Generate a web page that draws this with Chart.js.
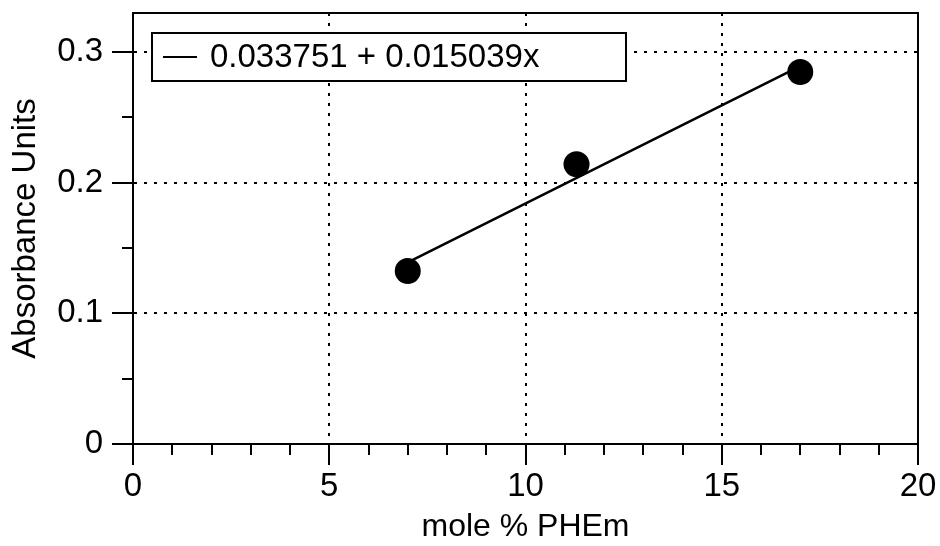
<!DOCTYPE html>
<html>
<head>
<meta charset="utf-8">
<title>Absorbance vs mole % PHEm</title>
<script src="https://cdn.jsdelivr.net/npm/chart.js@4/dist/chart.umd.min.js"></script>
<style>
  html, body { margin: 0; padding: 0; background: #fff; }
  canvas { display: block; }
</style>
</head>
<body>
<canvas id="chart" width="940" height="546"></canvas>
<script>
// Measured samples
const molePercent = [7, 11.3, 17];
const absorbance = [0.1325, 0.2142, 0.2848];

// Least-squares fit coefficients (absorbance = intercept + slope * x)
const fitIntercept = 0.033751;
const fitSlope = 0.015039;
const fitRange = [7, 17];

// Axis ticks
const xMajorTicks = [0, 5, 10, 15, 20];
const yMajorTicks = [0, 0.1, 0.2, 0.3];
const xMinorTicks = [1, 2, 3, 4, 6, 7, 8, 9, 11, 12, 13, 14, 16, 17, 18, 19];
const yMinorTicks = [0.05, 0.15, 0.25];

const FONT = "'Liberation Sans', Arial, Helvetica, sans-serif";
const INK = '#000';

const fitLabel = fitIntercept + ' + ' + fitSlope + 'x';
const fitPoints = fitRange.map(x => ({ x: x, y: fitIntercept + fitSlope * x }));
const samplePoints = molePercent.map((x, i) => ({ x: x, y: absorbance[i] }));

// Frame, minor ticks and the boxed legend
const framePlugin = {
  id: 'frame',
  afterDraw(chart) {
    const { ctx, chartArea: a, scales } = chart;
    ctx.save();
    ctx.strokeStyle = INK;
    ctx.lineWidth = 2;
    // minor ticks
    ctx.beginPath();
    xMinorTicks.forEach(v => {
      const px = Math.round(scales.x.getPixelForValue(v));
      ctx.moveTo(px, a.bottom);
      ctx.lineTo(px, a.bottom + 11);
    });
    yMinorTicks.forEach(v => {
      const py = Math.round(scales.y.getPixelForValue(v));
      ctx.moveTo(a.left - 11, py);
      ctx.lineTo(a.left, py);
    });
    ctx.stroke();
    // top and right edges of the plot frame
    ctx.beginPath();
    ctx.moveTo(a.left, a.top);
    ctx.lineTo(a.right, a.top);
    ctx.lineTo(a.right, a.bottom);
    ctx.stroke();

    // legend box
    const bx = a.left + 19, by = a.top + 20, bw = 474, bh = 48;
    ctx.fillStyle = '#fff';
    ctx.fillRect(bx, by, bw, bh);
    ctx.strokeRect(bx, by, bw, bh);
    const cy = by + bh / 2;
    ctx.beginPath();
    ctx.moveTo(bx + 11, cy);
    ctx.lineTo(bx + 45, cy);
    ctx.stroke();
    ctx.fillStyle = INK;
    ctx.font = '33px ' + FONT;
    ctx.textBaseline = 'middle';
    ctx.textAlign = 'left';
    ctx.fillText(chart.data.datasets[1].label, bx + 58, cy + 1);
    ctx.restore();
  }
};

new Chart(document.getElementById('chart'), {
  type: 'scatter',
  data: {
    datasets: [
      {
        label: 'samples',
        data: samplePoints,
        pointRadius: 13,
        pointHoverRadius: 13,
        pointBackgroundColor: INK,
        pointBorderColor: INK,
        pointBorderWidth: 0,
        showLine: false
      },
      {
        label: fitLabel,
        data: fitPoints,
        showLine: true,
        borderColor: INK,
        borderWidth: 2.5,
        pointRadius: 0,
        pointHoverRadius: 0
      }
    ]
  },
  options: {
    responsive: false,
    animation: false,
    devicePixelRatio: 1,
    layout: { padding: { top: 11, right: 22, left: 0, bottom: 0 } },
    plugins: {
      legend: { display: false },
      tooltip: { enabled: false }
    },
    scales: {
      x: {
        type: 'linear',
        bounds: 'data',
        min: 0,
        max: 20,
        afterBuildTicks: s => { s.ticks = xMajorTicks.map(v => ({ value: v })); },
        afterFit: s => { s.height = 102; s.paddingLeft = 0; s.paddingRight = 0; },
        ticks: {
          color: INK,
          font: { family: FONT, size: 33 },
          padding: 2,
          maxRotation: 0
        },
        grid: {
          color: INK,
          lineWidth: 2,
          tickLength: 21,
          tickWidth: 2,
          tickColor: INK
        },
        border: { display: true, color: INK, width: 2, dash: [3, 7] },
        title: {
          display: true,
          text: 'mole % PHEm',
          color: INK,
          font: { family: FONT, size: 32 },
          padding: { top: 0, bottom: 0 }
        }
      },
      y: {
        type: 'linear',
        bounds: 'data',
        min: 0,
        max: 0.33,
        afterBuildTicks: s => { s.ticks = yMajorTicks.map(v => ({ value: v })); },
        afterFit: s => { s.width = 133; s.paddingTop = 0; s.paddingBottom = 0; },
        ticks: {
          color: INK,
          font: { family: FONT, size: 33 },
          padding: 9
        },
        grid: {
          color: INK,
          lineWidth: 2,
          tickLength: 21,
          tickWidth: 2,
          tickColor: INK
        },
        border: { display: true, color: INK, width: 2, dash: [3, 7] },
        title: {
          display: true,
          text: 'Absorbance Units',
          color: INK,
          font: { family: FONT, size: 33 },
          padding: { top: 6, bottom: 0 }
        }
      }
    }
  },
  plugins: [framePlugin]
});
</script>
</body>
</html>
